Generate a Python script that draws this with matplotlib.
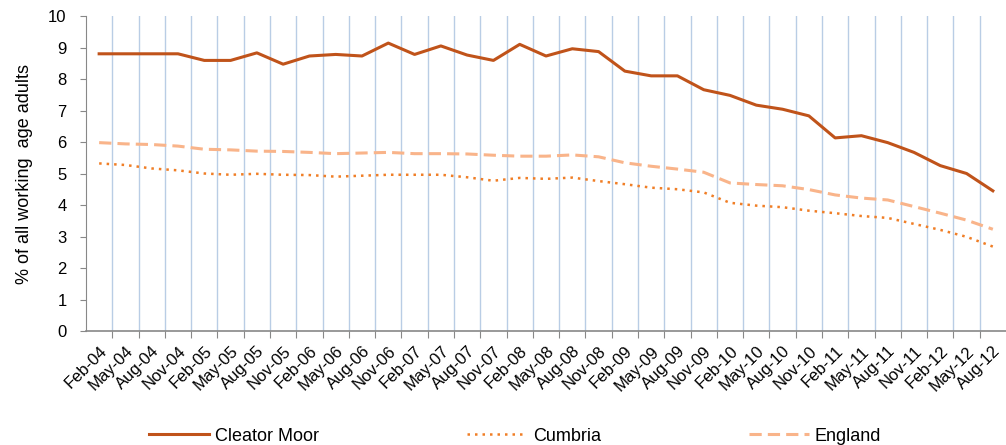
import matplotlib.pyplot as plt
import numpy as np

plt.rcParams['font.family'] = ['Liberation Sans', 'DejaVu Sans']

labels = ['Feb-04', 'May-04', 'Aug-04', 'Nov-04', 'Feb-05', 'May-05', 'Aug-05', 'Nov-05',
          'Feb-06', 'May-06', 'Aug-06', 'Nov-06', 'Feb-07', 'May-07', 'Aug-07', 'Nov-07',
          'Feb-08', 'May-08', 'Aug-08', 'Nov-08', 'Feb-09', 'May-09', 'Aug-09', 'Nov-09',
          'Feb-10', 'May-10', 'Aug-10', 'Nov-10', 'Feb-11', 'May-11', 'Aug-11', 'Nov-11',
          'Feb-12', 'May-12', 'Aug-12']

cleator_moor = [8.8, 8.8, 8.8, 8.8, 8.59, 8.59, 8.83, 8.47, 8.73, 8.78, 8.73, 9.14,
                8.78, 9.05, 8.76, 8.59, 9.1, 8.73, 8.96, 8.87, 8.25, 8.1, 8.1, 7.66,
                7.48, 7.17, 7.04, 6.83, 6.13, 6.2, 5.98, 5.67, 5.25, 5.0, 4.45]
cumbria = [5.32, 5.27, 5.16, 5.1, 5.0, 4.96, 4.99, 4.96, 4.95, 4.9, 4.93, 4.96,
           4.96, 4.96, 4.88, 4.77, 4.86, 4.83, 4.87, 4.76, 4.66, 4.55, 4.5, 4.4,
           4.07, 3.98, 3.93, 3.82, 3.74, 3.65, 3.59, 3.4, 3.21, 2.99, 2.68]
england = [5.98, 5.94, 5.92, 5.87, 5.77, 5.75, 5.71, 5.7, 5.67, 5.63, 5.65, 5.67,
           5.63, 5.63, 5.62, 5.58, 5.55, 5.55, 5.59, 5.53, 5.34, 5.23, 5.14, 5.04,
           4.7, 4.65, 4.61, 4.49, 4.32, 4.22, 4.16, 3.95, 3.74, 3.52, 3.23]

x = np.arange(len(labels))

fig = plt.figure(figsize=(10.06, 4.45), dpi=100)
ax = fig.add_axes([86 / 1006, 114 / 445, 920 / 1006, 315 / 445])

ax.plot(x, cleator_moor, color='#C0531A', lw=2.2, label='Cleator Moor')
ax.plot(x, cumbria, color='#F07E26', lw=1.8, linestyle=(0, (1, 2)), label='Cumbria')
ax.plot(x, england, color='#F9B48A', lw=2.2, linestyle=(0, (4, 2)), label='England')

# category axis: gridlines/ticks at boundaries, labels at centres
ax.set_xlim(-0.5, len(labels) - 0.5)
ax.set_xticks(x[:-1] + 0.5)
ax.set_xticklabels([])
ax.set_xticks(x, minor=True)
ax.set_xticklabels(labels, minor=True, rotation=45, ha='right', rotation_mode='anchor', fontsize=12)
ax.tick_params(axis='x', which='major', length=5, color='#888888', direction='out')
ax.tick_params(axis='x', which='minor', length=0, pad=9)
ax.grid(axis='x', which='major', color='#B9CDE5', lw=1)

ax.set_ylim(0, 10)
ax.set_yticks(range(0, 11))
ax.tick_params(axis='y', length=4, color='#888888', labelsize=12, pad=10)
ax.set_ylabel('% of all working  age adults', fontsize=13, labelpad=11)

for s in ['top', 'right']:
    ax.spines[s].set_visible(False)
ax.spines['left'].set_color('#888888')
ax.spines['bottom'].set_color('#888888')
ax.spines['bottom'].set_linewidth(1.2)

fig.legend(loc='center left', bbox_to_anchor=(0.132, 0.02), ncol=3, frameon=False,
           fontsize=13, handlelength=3.3, handletextpad=0.35, columnspacing=8.2)

fig.savefig('out.png', dpi=100)
